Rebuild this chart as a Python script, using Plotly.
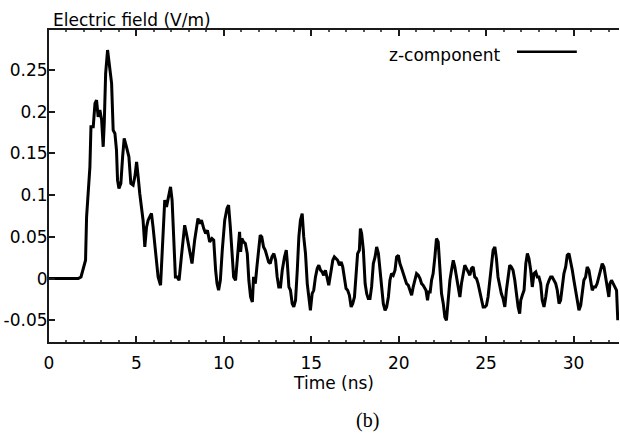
import plotly.graph_objects as go

# Time (ns)
time_ns = [
    0, 1.67, 1.83, 1.96, 2.09, 2.15, 2.21, 2.34, 2.40, 2.53, 2.63, 2.72, 2.81, 2.91, 3.01, 3.10, 3.16, 3.24,
    3.35, 3.48, 3.58, 3.67, 3.77, 3.86, 3.92, 4.00, 4.11, 4.21, 4.30, 4.43, 4.57, 4.68, 4.81, 4.91, 5.01,
    5.10, 5.19,
    5.38, 5.48, 5.58, 5.67, 5.76, 5.86, 5.95, 6.05, 6.15, 6.24, 6.38, 6.43, 6.52, 6.62, 6.72, 6.81, 6.95,
    7.04, 7.13, 7.23, 7.32, 7.44, 7.57, 7.76, 7.86, 8.05, 8.18, 8.33, 8.43, 8.52, 8.62, 8.72, 8.85, 8.96,
    9.06, 9.19, 9.32, 9.42, 9.53, 9.61, 9.70, 9.80, 9.91, 10.05, 10.18, 10.27, 10.37, 10.46, 10.56, 10.67,
    10.77, 10.90, 10.96, 11.03, 11.13, 11.23, 11.34, 11.43, 11.53, 11.63, 11.70, 11.80, 11.89, 11.99, 12.08,
    12.17, 12.27, 12.37, 12.46, 12.56, 12.65, 12.75, 12.86, 12.96, 13.05, 13.14, 13.24, 13.34, 13.47, 13.57,
    13.62, 13.72, 13.81, 13.91, 14.00, 14.10, 14.20, 14.29, 14.38, 14.48, 14.57, 14.67, 14.77, 14.86, 14.95,
    15.05, 15.14, 15.24, 15.34, 15.43, 15.53, 15.62, 15.71, 15.81, 15.91, 16.00,
    16.14, 16.23, 16.32, 16.42, 16.51, 16.61, 16.71, 16.80, 16.89, 16.99, 17.08, 17.18, 17.28, 17.37, 17.47,
    17.56, 17.65, 17.75, 17.81, 17.88, 17.98, 18.08, 18.17, 18.26, 18.36, 18.45, 18.55, 18.65, 18.74, 18.84,
    18.93, 19.02, 19.12, 19.22, 19.31, 19.41, 19.50, 19.59, 19.69, 19.79, 19.88, 19.98, 20.07, 20.17, 20.26,
    20.36, 20.45, 20.55, 20.65, 20.74, 20.83, 20.93, 21.02, 21.12, 21.22, 21.31, 21.40,
    21.56, 21.65, 21.71, 21.80, 21.88, 21.97, 22.07, 22.16, 22.26, 22.36, 22.45, 22.55, 22.64, 22.73, 22.83,
    22.93, 23.02, 23.12, 23.21, 23.30, 23.40, 23.50, 23.59, 23.69, 23.78, 23.88, 23.97, 24.07, 24.16, 24.26,
    24.35, 24.45, 24.54, 24.64, 24.73, 24.83, 24.93, 25.02, 25.11, 25.21, 25.30, 25.40, 25.50, 25.59, 25.68,
    25.78, 25.87, 25.97, 26.07, 26.16, 26.26, 26.35, 26.44, 26.54, 26.64, 26.73, 26.83, 26.92,
    26.98, 27.07, 27.17, 27.27, 27.36, 27.45, 27.55, 27.64, 27.74, 27.84, 27.93, 28.02, 28.12, 28.21, 28.31,
    28.41, 28.50, 28.60, 28.69, 28.78, 28.88, 28.98, 29.07, 29.17, 29.26, 29.35, 29.45, 29.55, 29.64, 29.74,
    29.83, 29.93, 30.02, 30.12, 30.21, 30.31, 30.41, 30.50, 30.59, 30.69, 30.78, 30.88, 30.98, 31.07, 31.16,
    31.26, 31.35, 31.45, 31.55, 31.64, 31.74, 31.83, 31.92, 32.02, 32.08, 32.17, 32.27, 32.36, 32.46, 32.53,
]

# Electric field z-component (V/m)
e_field_z = [
    0, 0, 0.002, 0.012, 0.022, 0.074, 0.098, 0.134, 0.182, 0.182, 0.21, 0.214, 0.194, 0.202, 0.19, 0.158,
    0.186, 0.246, 0.274, 0.25, 0.234, 0.178, 0.174, 0.154, 0.118, 0.108, 0.114, 0.146, 0.168, 0.158, 0.146,
    0.114, 0.112, 0.122, 0.14, 0.122, 0.102,
    0.07, 0.038, 0.062, 0.07, 0.074, 0.078, 0.062, 0.038, 0.014, 0.002, -0.008, 0.018, 0.054, 0.094, 0.086,
    0.096, 0.11, 0.094, 0.05, 0.002, 0.002, -0.002, 0.026, 0.064, 0.054, 0.034, 0.018, 0.046, 0.062, 0.072,
    0.066, 0.07, 0.06, 0.054, 0.058, 0.044, 0.048, 0.046, 0.01, -0.006, -0.014, -0.002, 0.034, 0.07, 0.084,
    0.088, 0.062, 0.03, 0.002, -0.002,
    0.026, 0.056, 0.032, 0.048, 0.044, 0.042, 0.03, -0.002, -0.022, -0.028, 0.002, -0.006, 0.014, 0.038,
    0.052, 0.05, 0.038, 0.034, 0.026, 0.02, 0.018, 0.026, 0.03, 0.022, 0.002, -0.01, -0.01, 0.01, 0.026,
    0.034, 0.022, -0.01, -0.014, -0.03, -0.034, -0.026, 0.01, 0.05, 0.07, 0.078, 0.05, 0.03, -0.006, -0.026,
    -0.038, -0.018, -0.014, 0.002, 0.012, 0.016, 0.01, 0.008, 0.004, 0.01, 0.002, -0.008,
    0.01, 0.022, 0.026, 0.024, 0.022, 0.016, 0.02, 0.014, -0.002, -0.012, -0.014, -0.02, -0.034, -0.03,
    -0.022, 0.01, 0.03, 0.034, 0.06, 0.054, 0.034, -0.006, -0.018, -0.024, -0.024, -0.01, 0.018, 0.026,
    0.038, 0.03, 0.01, -0.014, -0.03, -0.038, -0.034, -0.022, -0.002, 0.006, 0.004, 0.01, 0.026, 0.028,
    0.018, 0.012, 0.006, -0.002, -0.006, -0.008, -0.016, -0.02, -0.01, -0.002, 0.006, 0.004, 0, -0.006,
    -0.008,
    -0.014, -0.026, -0.016, -0.016, -0.002, 0.006, 0.026, 0.048, 0.044, 0.01, -0.018, -0.03, -0.046, -0.05,
    -0.022, -0.002, 0.01, 0.022, 0.014, 0.002, -0.01, -0.022, -0.006, 0.008, 0.016, 0.012, 0.008, 0.004,
    0.012, 0.014, 0.002, 0, -0.006, -0.016, -0.028, -0.034, -0.034, -0.032, -0.022, -0.002, 0.014, 0.034,
    0.038, 0.024, 0.002, -0.01, -0.018, -0.024, -0.034, -0.014, 0.002, 0.016, 0.014, 0.01, -0.002, -0.018,
    -0.034, -0.042,
    -0.026, -0.02, -0.014, 0.018, 0.03, 0.024, 0.01, -0.01, 0.006, 0.008, 0.002, 0.002, -0.006, -0.026,
    -0.034, -0.022, -0.008, -0.002, 0.002, 0.002, -0.002, -0.006, -0.014, -0.03, -0.026, -0.008, 0.006,
    0.014, 0.028, 0.03, 0.022, 0.01, -0.002, -0.014, -0.026, -0.038, -0.032, -0.018, -0.002, 0.002, 0.014,
    0.01, -0.002, -0.014, -0.01, -0.01, -0.006, 0.002, 0.01, 0.018, 0.014, 0.002, -0.014, -0.022, -0.006,
    -0.002, -0.006, -0.01, -0.014, -0.05,
]

x_ticks = [0, 5, 10, 15, 20, 25, 30]
y_ticks = [-0.05, 0, 0.05, 0.1, 0.15, 0.2, 0.25]
y_tick_labels = ["-0.05", "0", "0.05", "0.1", "0.15", "0.2", "0.25"]
x_range = [0, 32.6]
y_range = [-0.076, 0.298]

FONT = "DejaVu Sans"
AX = "#1a1a1a"

fig = go.Figure()
fig.add_trace(go.Scatter(
    x=time_ns, y=e_field_z, mode="lines", name="z-component",
    line=dict(color="black", width=3), showlegend=False,
))

fig.update_layout(
    width=620, height=434,
    margin=dict(l=49, r=1, t=30, b=92, autoexpand=False),
    paper_bgcolor="white", plot_bgcolor="white",
    font=dict(family=FONT, size=17, color="black"),
    xaxis=dict(
        range=x_range, tickvals=x_ticks, ticks="inside", ticklen=6, tickwidth=1.5,
        tickcolor=AX, showline=True, linecolor=AX, linewidth=2, mirror="ticks",
        showgrid=False, zeroline=False, ticklabelstandoff=5, automargin=False,
        title=dict(text="Time (ns)", standoff=2, font=dict(family=FONT, size=17)),
        minor=dict(ticks="inside", ticklen=2, dtick=1, tickcolor="#555"),
    ),
    yaxis=dict(
        range=y_range, tickvals=y_ticks, ticktext=y_tick_labels, ticks="inside", ticklen=6,
        tickwidth=1.5, tickcolor=AX, showline=True, linecolor=AX, linewidth=2,
        showgrid=False, zeroline=False, ticklabelstandoff=-4, automargin=False,
    ),
    yaxis2=dict(
        range=y_range, tickvals=y_ticks, overlaying="y", side="right", ticks="inside",
        ticklen=6, tickwidth=1.5, tickcolor=AX, showticklabels=False, showline=False,
        showgrid=False, zeroline=False, automargin=False,
    ),
    annotations=[
        dict(text="Electric field (V/m)", xref="paper", yref="paper", x=0.004, y=1.032,
             xanchor="left", yanchor="middle", showarrow=False, font=dict(family=FONT, size=17)),
        dict(text="z-component", xref="paper", yref="paper", x=0.797, y=0.92,
             xanchor="right", yanchor="middle", showarrow=False, font=dict(family=FONT, size=17)),
        dict(text="(b)", xref="paper", yref="paper", x=0.559, y=-0.252,
             xanchor="center", yanchor="middle", showarrow=False,
             font=dict(family="Liberation Serif", size=20)),
    ],
    shapes=[
        dict(type="line", xref="paper", yref="paper", x0=0.821, x1=0.926, y0=0.93, y1=0.93,
             line=dict(color="black", width=2.5)),
    ],
)

fig.write_html("out.html", config={"displayModeBar": False},
               post_script="document.body.style.margin='0';")
